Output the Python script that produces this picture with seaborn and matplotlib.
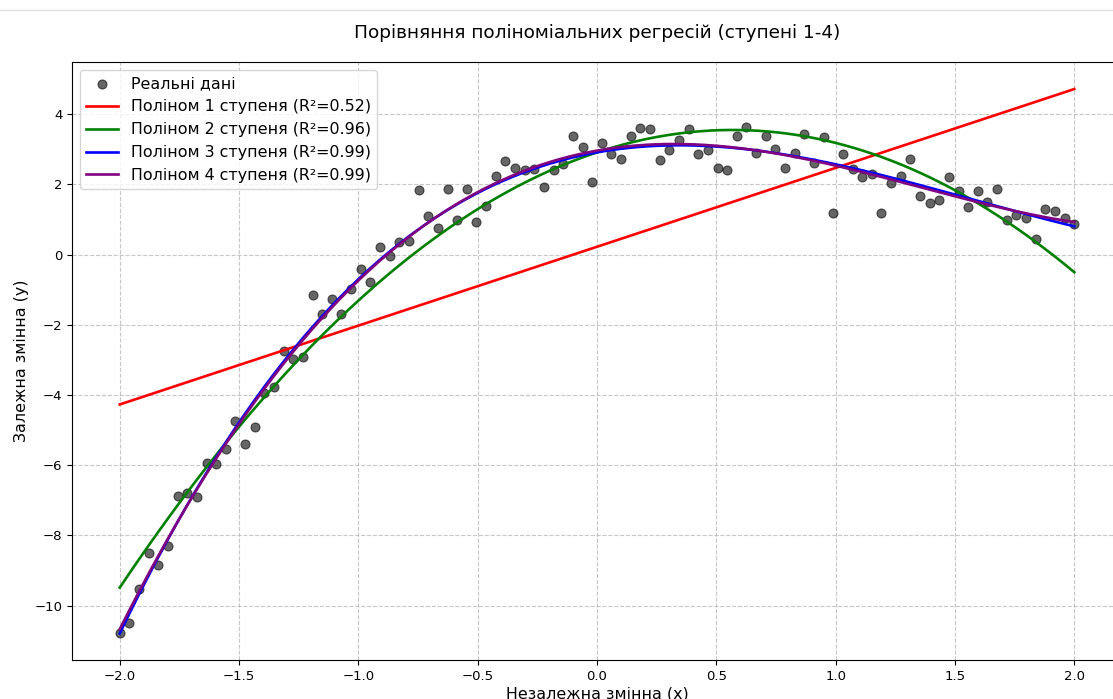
import numpy as np
import pandas as pd
import matplotlib
matplotlib.use("Agg")
import matplotlib.pyplot as plt
import seaborn as sns
from matplotlib.lines import Line2D

# Observed data (100 points evenly spaced on [-2, 2])
x_values = np.linspace(-2, 2, 100)
y_values = [
    -10.78, -10.49, -9.52, -8.50, -8.84, -8.30, -6.87, -6.79, -6.90, -5.93,
    -5.96, -5.53, -4.73, -5.39, -4.90, -3.93, -3.76, -2.74, -2.97, -2.91,
    -1.14, -1.68, -1.25, -1.68, -0.97, -0.40, -0.77, 0.23, -0.03, 0.37,
    0.40, 1.85, 1.11, 0.77, 1.88, 1.00, 1.88, 0.94, 1.40, 2.25,
    2.68, 2.48, 2.42, 2.45, 1.94, 2.40, 2.59, 3.39, 3.08, 2.08,
    3.17, 2.88, 2.74, 3.39, 3.62, 3.59, 2.71, 2.99, 3.28, 3.59,
    2.88, 2.99, 2.48, 2.42, 3.39, 3.65, 2.91, 3.39, 3.02, 2.48,
    2.91, 3.45, 2.62, 3.36, 1.20, 2.88, 2.45, 2.20, 2.31, 1.20,
    2.05, 2.25, 2.74, 1.68, 1.48, 1.57, 2.20, 1.80, 1.37, 1.80,
    1.51, 1.88, 1.00, 1.14, 1.05, 0.46, 1.31, 1.23, 1.05, 0.88,
]
degrees = [1, 2, 3, 4]
r2_labels = ["0.52", "0.96", "0.99", "0.99"]
line_colors = ["red", "green", "blue", "purple"]

title = "Порівняння поліноміальних регресій (ступені 1-4)"
xlabel = "Незалежна змінна (x)"
ylabel = "Залежна змінна (y)"
data_label = "Реальні дані"

W, H = 1113, 699
fig = plt.figure(figsize=(W / 100, H / 100), dpi=100)
ax = fig.add_axes([72 / W, 1 - 660 / H, 1050 / W, (660 - 62) / H])

df = pd.DataFrame({"x": x_values, "y": y_values})
sns.scatterplot(data=df, x="x", y="y", ax=ax, color="black", alpha=0.6,
                s=42, edgecolor="black", linewidth=0.8, label=data_label, zorder=3)

x_grid = np.linspace(-2, 2, 300)
y_arr = np.array(y_values)
for deg, r2, col in zip(degrees, r2_labels, line_colors):
    coefs = np.polyfit(x_values, y_arr, deg)
    fit_df = pd.DataFrame({"x": x_grid, "y": np.polyval(coefs, x_grid)})
    sns.lineplot(data=fit_df, x="x", y="y", ax=ax, color=col, linewidth=1.9,
                 label=f"Поліном {deg} ступеня (R²={r2})", zorder=4)

ax.set_xlim(-2.2, 2.2)
ax.set_ylim(-11.55, 5.49)
ax.set_xticks([-2.0, -1.5, -1.0, -0.5, 0.0, 0.5, 1.0, 1.5, 2.0])
ax.tick_params(labelsize=9.5)
ax.grid(True, linestyle="--", alpha=0.7)
ax.set_title(title, fontsize=13.3, pad=17)
ax.set_xlabel(xlabel, fontsize=11.4, labelpad=3)
ax.set_ylabel(ylabel, fontsize=11.4)
ax.legend(loc="upper left", fontsize=11.4)

fig.add_artist(Line2D([0, 1], [1 - 10 / H, 1 - 10 / H], color="#e0e0e0", linewidth=1))

fig.savefig("out.png", dpi=100)
